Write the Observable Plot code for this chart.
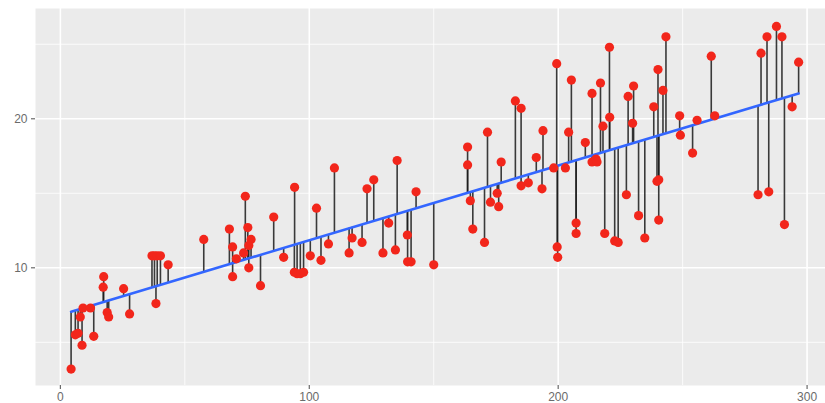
<!DOCTYPE html>
<html>
<head>
<meta charset="utf-8">
<script src="https://cdn.jsdelivr.net/npm/d3@7"></script>
<script src="https://cdn.jsdelivr.net/npm/@observablehq/plot@0.6"></script>
<style>
  html, body { margin: 0; padding: 0; background: #ffffff; }
  #chart svg { display: block; font-family: "Liberation Sans", Arial, sans-serif; }
</style>
</head>
<body>
<div id="chart"></div>
<script>
// TV advertising budget (x) and sales (y)
const tv = [4.3,6.0,7.1,8.7,8.0,9.1,12.1,13.4,17.4,17.2,
  18.8,19.4,25.4,27.8,36.8,37.8,38.9,40.2,38.4,43.3,
  57.6,67.9,69.2,69.2,70.7,73.6,74.3,75.3,76.6,75.7,
  75.7,80.4,85.7,89.7,94.1,94.0,95.1,96.4,97.7,100.4,
  102.9,104.7,107.7,110.1,116.0,117.2,121.2,123.2,125.9,129.6,
  131.9,134.6,135.3,139.4,139.5,140.9,142.9,150.0,163.6,163.6,
  164.7,165.7,170.4,171.6,172.8,175.5,176.1,177.1,182.8,185.1,
  185.1,188.0,191.2,193.5,193.9,198.2,199.4,199.6,199.8,202.9,
  204.2,205.3,207.2,207.2,210.9,213.6,213.6,215.2,215.6,217.0,
  218.0,218.7,220.6,220.7,222.7,224.1,227.4,228.1,229.9,230.3,
  232.3,234.8,238.4,240.1,239.7,240.4,240.4,242.1,243.3,248.8,
  249.1,254.0,255.8,261.5,262.9,280.3,281.5,283.9,284.6,287.7,
  289.9,290.9,294.0,296.6];
const sales = [3.2,5.5,5.6,4.8,6.7,7.3,7.3,5.4,9.4,8.7,
  7.0,6.7,8.6,6.9,10.8,10.8,10.8,10.8,7.6,10.2,
  11.9,12.6,11.4,9.4,10.6,11.0,14.8,12.7,11.9,11.5,
  10.0,8.8,13.4,10.7,15.4,9.7,9.6,9.6,9.7,10.8,
  14.0,10.5,11.6,16.7,11.0,12.0,11.7,15.3,15.9,11.0,
  13.0,11.2,17.2,12.2,10.4,10.4,15.1,10.2,18.1,16.9,
  14.5,12.6,11.7,19.1,14.4,15.0,14.1,17.1,21.2,20.7,
  15.5,15.7,17.4,15.3,19.2,16.7,23.7,11.4,10.7,16.7,
  19.1,22.6,13.0,12.3,18.4,21.7,17.1,17.3,17.1,22.4,
  19.5,12.3,24.8,20.1,11.8,11.7,14.9,21.5,19.7,22.2,
  13.5,12.0,20.8,23.3,15.8,15.9,13.2,21.9,25.5,20.2,
  18.9,17.7,19.9,24.2,20.2,14.9,24.4,25.5,15.1,26.2,
  25.5,12.9,20.8,23.8];

// axis ticks
const xMajor = [0, 100, 200, 300];
const xMinor = [50, 150, 250];
const yMajor = [10, 20];
const yMinor = [5, 15, 25];

// least-squares fit (same as the regression line)
const mx = d3.mean(tv), my = d3.mean(sales);
const slope = d3.sum(tv, (x, i) => (x - mx) * (sales[i] - my)) / d3.sum(tv, x => (x - mx) ** 2);
const intercept = my - slope * mx;
const rows = tv.map((x, i) => ({tv: x, sales: sales[i], fit: intercept + slope * x}));

const chart = Plot.plot({
  width: 825,
  height: 403,
  marginLeft: 35,
  marginRight: 0,
  marginTop: 8,
  marginBottom: 18,
  style: {fontSize: "12px", fontFamily: "Liberation Sans, Arial, sans-serif"},
  x: {domain: [-10, 307.4]},
  y: {domain: [2.1, 27.4]},
  marks: [
    Plot.frame({fill: "#EBEBEB", stroke: null}),
    Plot.ruleX(xMinor, {stroke: "#ffffff", strokeWidth: 0.8}),
    Plot.ruleY(yMinor, {stroke: "#ffffff", strokeWidth: 0.8}),
    Plot.ruleX(xMajor, {stroke: "#ffffff", strokeWidth: 1.6}),
    Plot.ruleY(yMajor, {stroke: "#ffffff", strokeWidth: 1.6}),
    Plot.axisX({ticks: xMajor, tickSize: 4, tickPadding: 3, label: null, color: "#6b6b6b", strokeWidth: 1.2}),
    Plot.axisY({ticks: yMajor, tickSize: 4, tickPadding: 4, label: null, color: "#6b6b6b", strokeWidth: 1.2}),
    Plot.ruleX(rows, {x: "tv", y1: "sales", y2: "fit", stroke: "#1a1a1a", strokeWidth: 1.6, strokeOpacity: 0.85}),
    Plot.linearRegressionY(rows, {x: "tv", y: "sales", ci: 0, stroke: "#3366FF", strokeWidth: 2.6}),
    Plot.dot(rows, {x: "tv", y: "sales", r: 4.6, fill: "#F2261B", stroke: null})
  ]
});
document.getElementById("chart").appendChild(chart);
</script>
</body>
</html>
